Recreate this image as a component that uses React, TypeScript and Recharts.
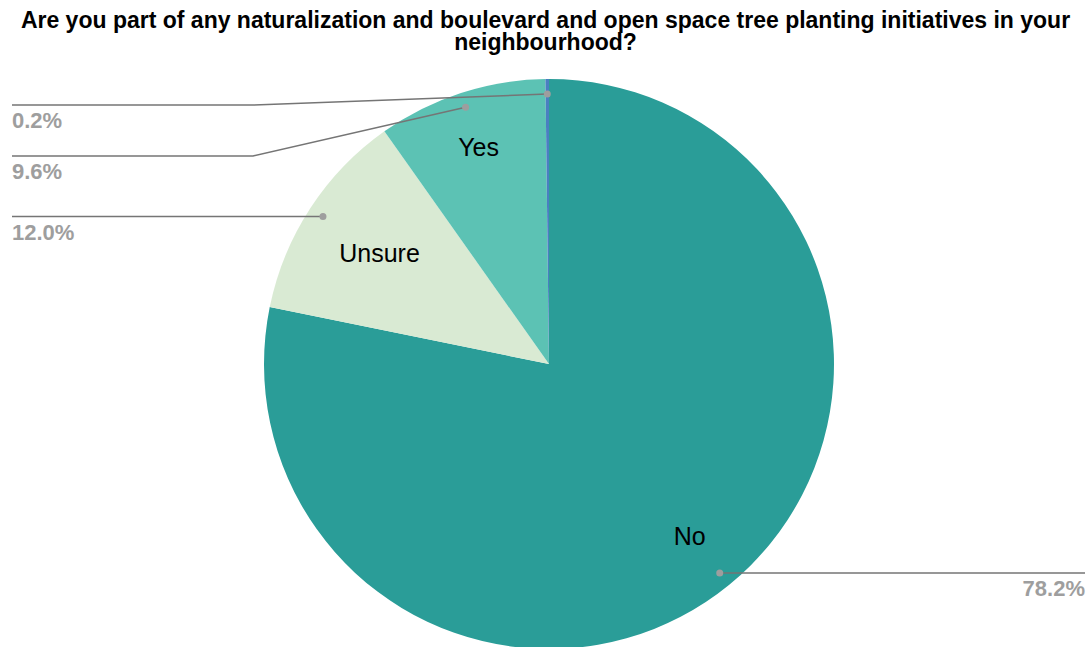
import { PieChart, Pie, Cell } from "recharts"

const title =
  "Are you part of any naturalization and boulevard and open space tree planting initiatives in your neighbourhood?"
const categories = ["No", "Unsure", "Yes", "Other"]
const shares = [78.2, 12.0, 9.6, 0.2]
const percentLabels = ["78.2%", "12.0%", "9.6%", "0.2%"]
const colors = ["#2a9d98", "#d9ead3", "#5cc2b4", "#4a7fc1"]

const FONT = "'Liberation Sans', Arial, sans-serif"
const W = 1091
const H = 647
// how far out the slice names sit, as a share of the radius
const nameRadius = [0.78, 0.71, 0.8, 0]

const data = categories.map((name, i) => ({ name, value: shares[i] }))

// where each leader line ends up vertically (labels pushed apart like the original)
function labelRows(cy: number, r: number) {
  const total = shares.reduce((a, b) => a + b, 0)
  let cum = 0
  const pts = shares.map((s, i) => {
    const mid = ((cum + s / 2) / total) * 2 * Math.PI
    cum += s
    return { i, x: Math.sin(mid), y: cy - r * Math.cos(mid) }
  })
  const rows: number[] = []
  const left = pts.filter((p) => p.x < 0).sort((a, b) => a.y - b.y)
  let prev = -Infinity
  left.forEach((p) => {
    const y = Math.max(p.y, prev + 51, 105)
    rows[p.i] = y
    prev = y
  })
  pts.filter((p) => p.x >= 0).forEach((p) => (rows[p.i] = p.y))
  return rows
}

const renderLabel = (props: any) => {
  const { cx, cy, midAngle, outerRadius, index } = props
  const rad = (-midAngle * Math.PI) / 180
  const dr = outerRadius * 0.947
  const dotX = cx + dr * Math.cos(rad)
  const dotY = cy + dr * Math.sin(rad)
  const rows = labelRows(cy, dr)
  const rowY = rows[index]
  const right = dotX > cx
  const endX = right ? W - 6 : 12
  const pts =
    Math.abs(rowY - dotY) > 1
      ? `${dotX},${dotY} 253,${rowY} ${endX},${rowY}`
      : `${dotX},${dotY} ${endX},${rowY}`
  const ir = outerRadius * nameRadius[index]
  return (
    <g>
      {shares[index] > 1 && (
        <text
          x={cx + ir * Math.cos(rad)}
          y={cy + ir * Math.sin(rad)}
          textAnchor="middle"
          dominantBaseline="central"
          fontFamily={FONT}
          fontSize={25}
          fill="#000"
        >
          {categories[index]}
        </text>
      )}
      <polyline points={pts} fill="none" stroke="#757575" strokeWidth={1.5} />
      <circle cx={dotX} cy={dotY} r={3.5} fill="#9e9e9e" />
      <text
        x={endX}
        y={rowY + 23}
        textAnchor={right ? "end" : "start"}
        fontFamily={FONT}
        fontSize={22}
        fontWeight="bold"
        fill="#9e9e9e"
      >
        {percentLabels[index]}
      </text>
    </g>
  )
}

export default function App() {
  return (
    <div style={{ position: "absolute", left: 0, top: 0, width: W, height: H, background: "#fff" }}>
      <div
        style={{
          position: "absolute",
          left: 0,
          top: 9,
          width: W,
          textAlign: "center",
          fontFamily: FONT,
          fontWeight: "bold",
          fontSize: 23,
          lineHeight: "22px",
          color: "#000",
          padding: "0 8px",
          boxSizing: "border-box",
        }}
      >
        {title}
      </div>
      <PieChart width={W} height={H} margin={{ top: 0, right: 0, bottom: 0, left: 0 }}>
        <Pie
          data={data}
          dataKey="value"
          nameKey="name"
          cx={549}
          cy={364}
          outerRadius={285}
          startAngle={90}
          endAngle={-270}
          stroke="none"
          label={renderLabel}
          labelLine={false}
          isAnimationActive={false}
        >
          {data.map((d, i) => (
            <Cell key={d.name} fill={colors[i]} />
          ))}
        </Pie>
      </PieChart>
    </div>
  )
}
